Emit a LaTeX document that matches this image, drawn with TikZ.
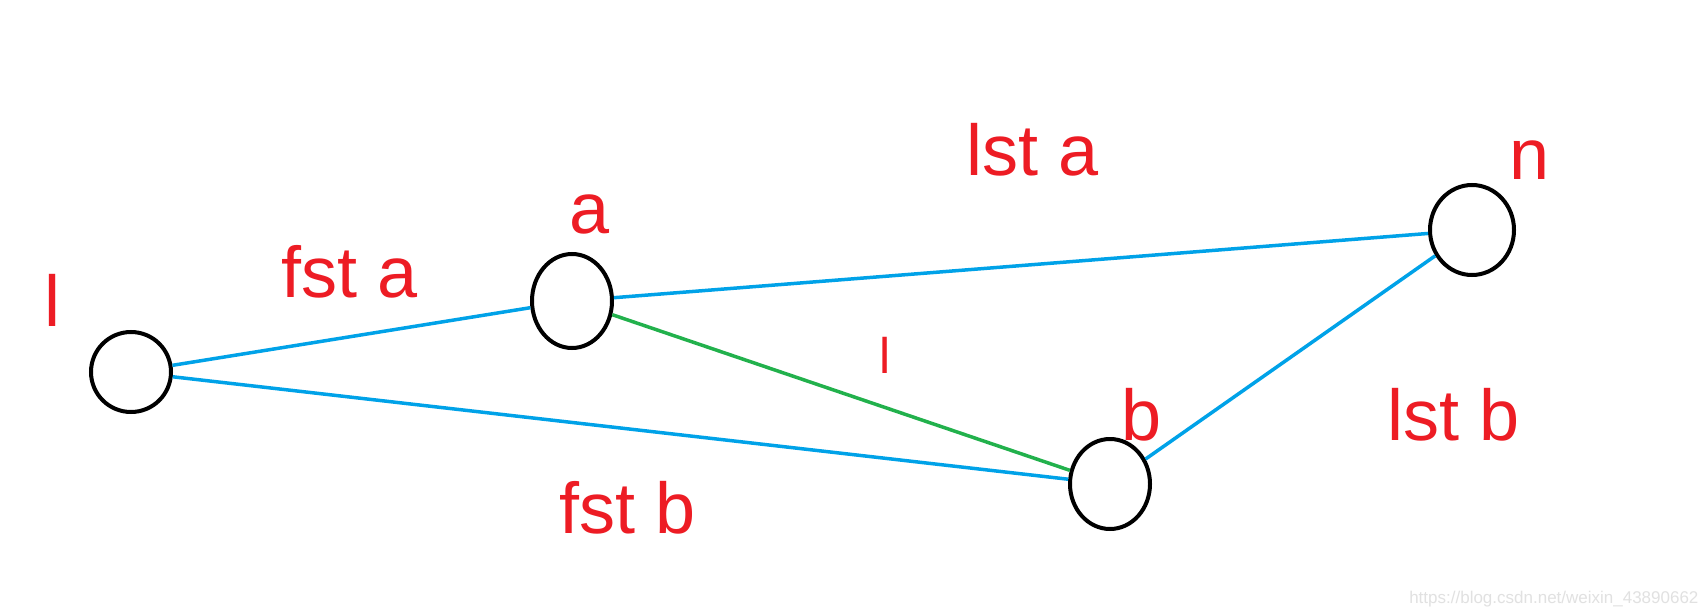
\documentclass[tikz,border=0pt]{standalone}
\usepackage{fontspec}
\setmainfont{Liberation Sans}
\usetikzlibrary{shapes.geometric}
\begin{document}
\begin{tikzpicture}[x=1pt,y=-1pt,
  vert/.style={draw=black,line width=4pt,ellipse,inner sep=0pt},
  blueedge/.style={draw={rgb,255:red,0;green,162;blue,232},line width=3.5pt},
  greenedge/.style={draw={rgb,255:red,34;green,177;blue,76},line width=3.5pt},
  lab/.style={text={rgb,255:red,237;green,28;blue,36},font=\fontsize{72}{72}\selectfont}]
\useasboundingbox[fill=white] (0,0) rectangle (1705,615);
\node[vert,minimum width=80pt,minimum height=80pt] (v1) at (131,372) {};
\node[vert,minimum width=80pt,minimum height=94pt] (va) at (572,301) {};
\node[vert,minimum width=84pt,minimum height=90pt] (vn) at (1472,230) {};
\node[vert,minimum width=80pt,minimum height=90pt] (vb) at (1110,484) {};
\draw[blueedge] (v1) -- (va);
\draw[blueedge] (v1) -- (vb);
\draw[blueedge] (va) -- (vn);
\draw[blueedge] (vb) -- (vn);
\draw[greenedge] (va) -- (vb);
\node[lab] (l1) at (52,300) {l};
\node[lab] (lfa) at (350,272) {fst a};
\node[lab] (la) at (590,214) {a};
\node[lab] (llsa) at (1033,150) {lst a};
\node[lab] (ln) at (1530,160) {n};
\node[lab,font=\fontsize{50}{50}\selectfont] (lw) at (885,355) {l};
\node[lab] (lb) at (1142,415) {b};
\node[lab] (llsb) at (1454,415) {lst b};
\node[lab] (lfb) at (628,508) {fst b};
\node[anchor=east,text={rgb,255:red,225;green,225;blue,225},font=\fontsize{17}{17}\selectfont] (wm) at (1702,599) {https://blog.csdn.net/weixin\_43890662};
\end{tikzpicture}
\end{document}
